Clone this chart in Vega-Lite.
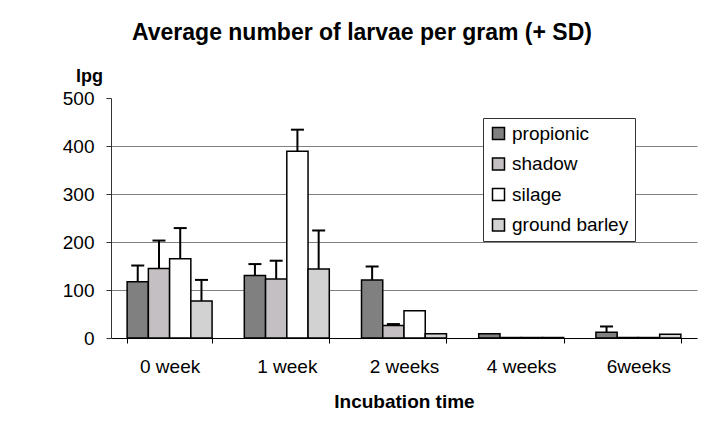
{
  "$schema": "https://vega.github.io/schema/vega-lite/v6.json",
  "width": 586,
  "height": 240,
  "autosize": {"type": "none"},
  "padding": {"left": 111, "top": 98, "right": 29, "bottom": 94},
  "background": "white",
  "title": {
    "text": "Average number of larvae per gram (+ SD)",
    "anchor": "start",
    "frame": "group",
    "dx": 21,
    "fontSize": 23,
    "font": "Liberation Sans",
    "fontWeight": "bold",
    "color": "black",
    "baseline": "alphabetic",
    "offset": 4
  },
  "data": {
    "values": [
      {"group": "0 week", "series": "propionic", "value": 117, "upper": 151},
      {"group": "0 week", "series": "shadow", "value": 145, "upper": 203},
      {"group": "0 week", "series": "silage", "value": 165, "upper": 229},
      {"group": "0 week", "series": "ground barley", "value": 77, "upper": 121},
      {"group": "1 week", "series": "propionic", "value": 130, "upper": 154},
      {"group": "1 week", "series": "shadow", "value": 123, "upper": 161},
      {"group": "1 week", "series": "silage", "value": 389, "upper": 434},
      {"group": "1 week", "series": "ground barley", "value": 144, "upper": 224},
      {"group": "2 weeks", "series": "propionic", "value": 121, "upper": 149},
      {"group": "2 weeks", "series": "shadow", "value": 26, "upper": 29},
      {"group": "2 weeks", "series": "silage", "value": 57, "upper": null},
      {"group": "2 weeks", "series": "ground barley", "value": 9, "upper": null},
      {"group": "4 weeks", "series": "propionic", "value": 9, "upper": null},
      {"group": "4 weeks", "series": "shadow", "value": 1, "upper": null},
      {"group": "4 weeks", "series": "silage", "value": 1, "upper": null},
      {"group": "4 weeks", "series": "ground barley", "value": 1, "upper": null},
      {"group": "6weeks", "series": "propionic", "value": 12, "upper": 24},
      {"group": "6weeks", "series": "shadow", "value": 1, "upper": null},
      {"group": "6weeks", "series": "silage", "value": 1, "upper": null},
      {"group": "6weeks", "series": "ground barley", "value": 8, "upper": null}
    ]
  },
  "encoding": {
    "x": {
      "field": "group",
      "type": "nominal",
      "sort": ["0 week", "1 week", "2 weeks", "4 weeks", "6weeks"],
      "scale": {"paddingInner": 0.275, "paddingOuter": 0.1375},
      "axis": {
        "title": "Incubation time",
        "labelAngle": 0,
        "tickBand": "extent",
        "tickSize": 5,
        "tickColor": "black",
        "domainColor": "black",
        "labelFontSize": 19,
        "labelFont": "Liberation Sans",
        "labelColor": "black",
        "labelPadding": 14,
        "titleFontSize": 19,
        "titleFont": "Liberation Sans",
        "titleFontWeight": "bold",
        "titleColor": "black",
        "titlePadding": 16
      }
    },
    "xOffset": {
      "field": "series",
      "type": "nominal",
      "sort": ["propionic", "shadow", "silage", "ground barley"],
      "scale": {"paddingInner": 0, "paddingOuter": 0}
    }
  },
  "layer": [
    {
      "mark": {"type": "bar", "stroke": "black", "strokeWidth": 1.5},
      "encoding": {
        "y": {
          "field": "value",
          "type": "quantitative",
          "scale": {"domain": [0, 500], "nice": false},
          "axis": {
            "title": "lpg",
            "titleAngle": 0,
            "titleX": -22,
            "titleY": -17,
            "titleAlign": "center",
            "titleBaseline": "alphabetic",
            "titleFontSize": 18,
            "titleFont": "Liberation Sans",
            "titleFontWeight": "bold",
            "titleColor": "black",
            "values": [0, 100, 200, 300, 400, 500],
            "tickSize": 5,
            "tickColor": "#333333",
            "domainColor": "#333333",
            "labelFontSize": 19,
            "labelFont": "Liberation Sans",
            "labelColor": "black",
            "labelPadding": 12,
            "grid": true,
            "gridColor": {"condition": {"test": "datum.value >= 500 || datum.value <= 0", "value": "transparent"}, "value": "#808080"},
            "gridWidth": 1
          }
        },
        "fill": {
          "field": "series",
          "type": "nominal",
          "sort": ["propionic", "shadow", "silage", "ground barley"],
          "scale": {
            "domain": ["propionic", "shadow", "silage", "ground barley"],
            "range": ["#808080", "#c4bfc2", "#ffffff", "#d2d2d2"]
          },
          "legend": {
            "title": null,
            "orient": "none",
            "legendX": 372,
            "legendY": 20,
            "padding": 6,
            "rowPadding": 10.5,
            "strokeColor": "#333333",
            "fillColor": "white",
            "symbolType": "square",
            "symbolSize": 144,
            "symbolStrokeColor": "black",
            "symbolStrokeWidth": 1.5,
            "symbolOpacity": 1,
            "labelFontSize": 19,
            "labelFont": "Liberation Sans",
            "labelColor": "black",
            "labelOffset": 4
          }
        }
      }
    },
    {
      "transform": [{"filter": "datum.upper != null"}],
      "mark": {"type": "rule", "color": "black", "strokeWidth": 2},
      "encoding": {
        "y": {"field": "value", "type": "quantitative"},
        "y2": {"field": "upper"}
      }
    },
    {
      "transform": [{"filter": "datum.upper != null"}],
      "mark": {"type": "tick", "color": "black", "size": 13, "thickness": 2, "opacity": 1},
      "encoding": {
        "y": {"field": "upper", "type": "quantitative"}
      }
    }
  ],
  "config": {
    "view": {"stroke": null},
    "font": "Liberation Sans"
  }
}
